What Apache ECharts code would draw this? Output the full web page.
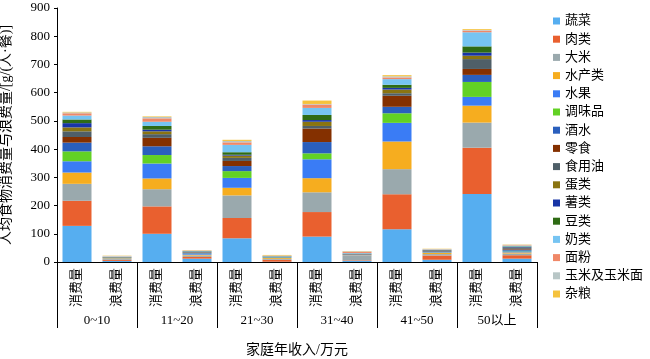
<!DOCTYPE html>
<html>
<head>
<meta charset="utf-8">
<script src="https://cdn.jsdelivr.net/npm/echarts@6/dist/echarts.min.js"></script>
<style>html,body{margin:0;padding:0;background:#fff;}#c{width:650px;height:359px;}</style>
</head>
<body>
<div id="c"></div>
<script>
const categories = ['消费量','浪费量','消费量','浪费量','消费量','浪费量','消费量','浪费量','消费量','浪费量','消费量','浪费量'];
const groups = ['0~10','11~20','21~30','31~40','41~50','50以上'];
const yTicks = [0,100,200,300,400,500,600,700,800,900];
const seriesNames = ['蔬菜','肉类','大米','水产类','水果','调味品','酒水','零食','食用油','蛋类','薯类','豆类','奶类','面粉','玉米及玉米面','杂粮'];
const vegetables = [128,4,100,12,84,1,90,4,116,8,241,12];
const meat = [89,4,97,6,72,7,87,2,124,15,164,12];
const rice = [60,3,61,5,80,3,70,17,89,5,89,6];
const aquatic = [40,2,38,3,27,3,50,1,98,5,60,4];
const fruit = [40,1,53,3,35,2,67,1,66,2,31,4];
const condiment = [35,0.5,30,1,24,1,21,0.5,34,1,53,2];
const drinks = [31,0.5,31,3,18,0.5,40,1,23,2,25,4];
const snacks = [20,0.5,30,1,18,0.5,48,1,39,1,21,2];
const oil = [20,0.5,13,1,11,0.5,9,1,9,1,35,3];
const eggs = [14,0.5,10,1,8,0.5,15,0.5,13,1,12,2];
const tubers = [15,0.5,6,1,3,0.5,6,0.5,6,1,11,2];
const beans = [13,0.5,13,1,9,0.5,18,0.5,11,1,22,2];
const milk = [14,1,15,1,26,1,25,2,20,1,50,2];
const flour = [8,1,12,1,9,1,12,4,6,1,6,2];
const corn = [3,2,5,1,5,1,2,2,4,1,2,2];
const grains = [2,1,2,1,4,2,12,1,4,1,3,1];
const seriesData = [vegetables,meat,rice,aquatic,fruit,condiment,drinks,snacks,oil,eggs,tubers,beans,milk,flour,corn,grains];
const colors = ['#56aef0','#e9602f','#9aa9ad','#f6ad1f','#3a7cf5','#62d124','#2a5fbd','#843000','#4f5f68','#8a7411','#1835a6','#2e6b14','#76c4f2','#f08868','#b8c6c6','#f5c23d'];

const FONT = '"Liberation Serif", "Noto Sans CJK SC", serif';
const chart = echarts.init(document.getElementById('c'));
chart.setOption({
  animation: false,
  color: colors,
  textStyle: { fontFamily: FONT, color: '#000' },
  grid: { left: 57, right: 113, top: 8, bottom: 97, containLabel: false, outerBoundsMode: 'none' },
  legend: {
    orient: 'vertical', left: 548, top: 9,
    itemWidth: 7, itemHeight: 7, itemGap: 4.2, icon: 'rect',
    textStyle: { fontFamily: FONT, fontSize: 13, color: '#000', lineHeight: 14 },
    data: seriesNames
  },
  xAxis: [
    {
      type: 'category', data: categories, position: 'bottom',
      axisLine: { show: true, lineStyle: { color: '#000', width: 1 } },
      axisTick: { show: false },
      axisLabel: { rotate: 90, interval: 0, margin: 6, fontSize: 13, color: '#000', fontFamily: FONT }
    },
    {
      type: 'category', data: groups, position: 'bottom',
      axisLine: { show: false },
      axisTick: { show: true, interval: 0, length: 66, lineStyle: { color: '#000' } },
      axisLabel: { interval: 0, margin: 52, fontSize: 13, color: '#000', fontFamily: FONT },
      name: '家庭年收入/万元', nameLocation: 'middle', nameGap: 81,
      nameTextStyle: { fontSize: 14, color: '#000', fontFamily: FONT }
    }
  ],
  yAxis: {
    type: 'value', min: yTicks[0], max: yTicks[yTicks.length - 1], interval: 100,
    axisLine: { show: true, lineStyle: { color: '#000' } },
    axisTick: { show: true, length: 3, lineStyle: { color: '#000' } },
    splitLine: { show: false },
    axisLabel: { fontSize: 13, color: '#000', margin: 7, fontFamily: FONT },
    name: '人均食物消费量与浪费量/[g/(人·餐)]', nameLocation: 'middle', nameGap: 44,
    nameTextStyle: { fontSize: 14, color: '#000', fontFamily: FONT }
  },
  series: seriesNames.map((n, i) => ({
    name: n, type: 'bar', stack: 'total', xAxisIndex: 0,
    barWidth: 29, data: seriesData[i],
    itemStyle: { color: colors[i] }
  }))
});
</script>
</body>
</html>
